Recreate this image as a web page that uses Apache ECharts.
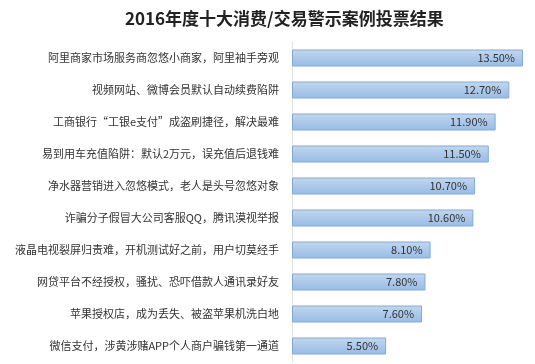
<!DOCTYPE html>
<html><head><meta charset="utf-8">
<script src="https://cdn.jsdelivr.net/npm/echarts@6/dist/echarts.min.js"></script>
<style>html,body{margin:0;padding:0;background:#fff}#c{width:535px;height:364px}</style>
</head><body><div id="c"></div>
<script>
const titleText = '2016年度十大消费/交易警示案例投票结果';
const categories = [
  '阿里商家市场服务商忽悠小商家，阿里袖手旁观',
  '视频网站、微博会员默认自动续费陷阱',
  '工商银行“工银e支付”成盗刷捷径，解决最难',
  '易到用车充值陷阱：默认2万元，误充值后退钱难',
  '净水器营销进入忽悠模式，老人是头号忽悠对象',
  '诈骗分子假冒大公司客服QQ，腾讯漠视举报',
  '液晶电视裂屏归责难，开机测试好之前，用户切莫经手',
  '网贷平台不经授权，骚扰、恐吓借款人通讯录好友',
  '苹果授权店，成为丢失、被盗苹果机洗白地',
  '微信支付，涉黄涉赌APP个人商户骗钱第一通道'
];
const values = [13.5, 12.7, 11.9, 11.5, 10.7, 10.6, 8.1, 7.8, 7.6, 5.5];

const chart = echarts.init(document.getElementById('c'));
chart.setOption({
  animation: false,
  backgroundColor: '#fff',
  title: {
    text: titleText, left: 120, top: 5,
    textStyle: {fontSize: 17, fontWeight: 'bold', color: '#222', fontFamily: 'Noto Sans CJK SC'}
  },
  grid: {left: 292, right: 12, top: 42, bottom: 2},
  xAxis: {type: 'value', min: 0, max: 13.5, show: false},
  yAxis: {
    type: 'category', data: categories, inverse: true,
    axisLine: {show: true, lineStyle: {color: '#e0e0e0', width: 1}},
    axisTick: {show: false},
    axisLabel: {fontSize: 11, color: '#333', margin: 13, fontFamily: 'Noto Sans CJK SC'}
  },
  series: [{
    type: 'bar', data: values, barWidth: 17,
    itemStyle: {
      color: new echarts.graphic.LinearGradient(0, 0, 0, 1, [
        {offset: 0, color: '#c2d7ef'}, {offset: 1, color: '#98bbe5'}
      ]),
      borderColor: '#85a9d6', borderWidth: 1
    },
    label: {
      show: true, position: 'insideRight', distance: 8,
      formatter: p => p.value.toFixed(2) + '%',
      fontSize: 11, color: '#333', fontFamily: 'Noto Sans CJK SC'
    }
  }]
});
</script></body></html>
